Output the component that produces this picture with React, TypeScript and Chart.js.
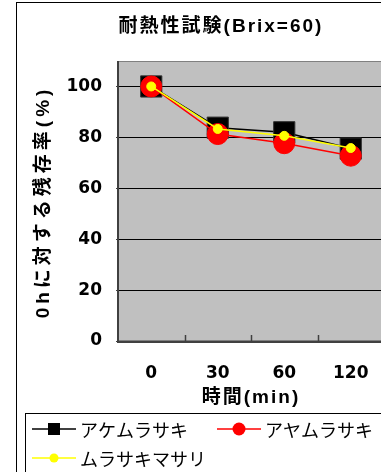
import React, { useEffect, useRef } from "react";
import { Chart, registerables } from "chart.js";

Chart.register(...registerables);

// Elapsed heating time (min)
const times = ["0", "30", "60", "120"];
// Residual ratio relative to 0 h (%)
const akemurasaki = [100, 83.8, 82.0, 75.6];
const ayamurasaki = [100, 81.3, 77.7, 72.8];
const murasakimasari = [100, 83.3, 80.6, 75.8];
const yTicks = [0, 20, 40, 60, 80, 100];
const seriesNames = ["アケムラサキ", "アヤムラサキ", "ムラサキマサリ"];
const chartTitle = "耐熱性試験(Brix=60)";
const yTitle = "0hに対する残存率(%)";
const xTitle = "時間(min)";

const BOLD_FONT = '"Liberation Sans", "Noto Sans CJK JP", sans-serif';

type LegendMark = { shape: "square" | "circle"; size: number };
const legendMarks: LegendMark[] = [
  { shape: "square", size: 12 },
  { shape: "circle", size: 13 },
  { shape: "circle", size: 9 },
];

const framePlugin = {
  id: "frame",
  beforeDraw(chart: any) {
    const { ctx, chartArea: a, width, height } = chart;
    ctx.save();
    ctx.fillStyle = "#ffffff";
    ctx.fillRect(0, 0, width, height);
    // chart outline
    ctx.strokeStyle = "#000000";
    ctx.lineWidth = 1;
    ctx.strokeRect(16.5, 2.5, width - 17, height + 40);
    // plot area
    ctx.fillStyle = "#c0c0c0";
    ctx.fillRect(a.left, a.top, a.right - a.left, a.bottom - a.top);
    ctx.strokeStyle = "#808080";
    ctx.strokeRect(a.left + 0.5, a.top + 0.5, a.right - a.left - 1, a.bottom - a.top - 1);
    ctx.restore();
  },
  beforeDatasetsDraw(chart: any) {
    const { ctx, chartArea: a } = chart;
    const xs = chart.scales.x;
    ctx.save();
    ctx.strokeStyle = "#404040";
    ctx.lineWidth = 2;
    ctx.beginPath();
    ctx.moveTo(a.left, a.top);
    ctx.lineTo(a.left, a.bottom + 1);
    ctx.lineTo(a.right, a.bottom + 1);
    ctx.stroke();
    // inward tick marks between categories
    ctx.lineWidth = 1.5;
    for (let i = 1; i < times.length; i++) {
      const x = Math.round((xs.getPixelForValue(i - 1) + xs.getPixelForValue(i)) / 2) + 0.5;
      ctx.beginPath();
      ctx.moveTo(x, a.bottom);
      ctx.lineTo(x, a.bottom - 6);
      ctx.stroke();
    }
    ctx.restore();
  },
  afterDraw(chart: any) {
    const { ctx } = chart;
    ctx.save();
    ctx.fillStyle = "#000000";
    ctx.textBaseline = "middle";
    ctx.textAlign = "center";

    // chart title
    ctx.font = `bold 19px ${BOLD_FONT}`;
    ctx.letterSpacing = "2px";
    ctx.fillText(chartTitle, 221, 27);

    // x axis title
    ctx.fillText(xTitle, 251, 398);

    // y axis title
    ctx.save();
    ctx.translate(44, 204);
    ctx.rotate(-Math.PI / 2);
    ctx.letterSpacing = "4px";
    ctx.fillText(yTitle, 2, 0);
    ctx.restore();

    // legend
    ctx.letterSpacing = "0px";
    ctx.strokeStyle = "#000000";
    ctx.lineWidth = 1;
    ctx.strokeRect(25.5, 413.5, chart.width, 100);
    const slots = [
      { x: 32, y: 429 },
      { x: 217, y: 429 },
      { x: 32, y: 458 },
    ];
    ctx.font = '18px "Noto Sans CJK JP", sans-serif';
    ctx.textAlign = "left";
    chart.data.datasets.forEach((ds: any, i: number) => {
      const s = slots[i];
      const m = legendMarks[i];
      ctx.strokeStyle = ds.borderColor;
      ctx.lineWidth = 1.5;
      ctx.beginPath();
      ctx.moveTo(s.x, s.y);
      ctx.lineTo(s.x + 44, s.y);
      ctx.stroke();
      const cx = s.x + 22;
      ctx.fillStyle = ds.pointBackgroundColor;
      if (m.shape === "square") {
        ctx.fillRect(cx - m.size / 2, s.y - m.size / 2, m.size, m.size);
      } else {
        ctx.beginPath();
        ctx.arc(cx, s.y, m.size / 2, 0, Math.PI * 2);
        ctx.fill();
      }
      ctx.fillStyle = "#000000";
      ctx.fillText(ds.label, s.x + 48, s.y + 1);
    });
    ctx.restore();
  },
};

export default function App() {
  const canvasRef = useRef<HTMLCanvasElement | null>(null);

  useEffect(() => {
    if (!canvasRef.current) return;
    const tickFont = { family: '"DejaVu Sans", sans-serif', size: 17, weight: "bold" as const };
    const chart = new Chart(canvasRef.current, {
      type: "line",
      data: {
        labels: times,
        datasets: [
          {
            label: seriesNames[0],
            data: akemurasaki,
            borderColor: "#000000",
            borderWidth: 1.5,
            pointStyle: "rect",
            pointRadius: 15,
            pointBackgroundColor: "#000000",
            pointBorderColor: "#333333",
            pointBorderWidth: 1,
            order: 3,
          },
          {
            label: seriesNames[1],
            data: ayamurasaki,
            borderColor: "#ff0000",
            borderWidth: 1.5,
            pointStyle: "circle",
            pointRadius: 10.5,
            pointBackgroundColor: "#ff0000",
            pointBorderColor: "#ff0000",
            pointBorderWidth: 1,
            order: 2,
          },
          {
            label: seriesNames[2],
            data: murasakimasari,
            borderColor: "#ffff00",
            borderWidth: 1.5,
            pointStyle: "circle",
            pointRadius: 4.5,
            pointBackgroundColor: "#ffff00",
            pointBorderColor: "#ffff00",
            pointBorderWidth: 1,
            order: 1,
          },
        ],
      },
      options: {
        responsive: true,
        maintainAspectRatio: false,
        animation: false,
        layout: { padding: { left: 0, right: 56, top: 61, bottom: 0 } },
        plugins: {
          legend: { display: false },
          title: { display: false },
          tooltip: { enabled: false },
        },
        scales: {
          x: {
            type: "category",
            offset: true,
            grid: { display: false },
            border: { display: false },
            ticks: { color: "#000000", font: tickFont, padding: 14, maxRotation: 0 },
            afterFit: (scale: any) => {
              scale.height = 131;
            },
          },
          y: {
            type: "linear",
            min: 0,
            max: 110,
            afterBuildTicks: (scale: any) => {
              scale.ticks = yTicks.map((v) => ({ value: v }));
            },
            grid: { color: "#000000", lineWidth: 1, drawTicks: true, tickLength: 2, tickColor: "#404040" },
            border: { display: false },
            ticks: { color: "#000000", font: tickFont, padding: 14 },
            afterFit: (scale: any) => {
              scale.width = 118;
            },
          },
        },
      },
      plugins: [framePlugin],
    });
    return () => chart.destroy();
  }, []);

  return (
    <div
      style={{
        position: "fixed",
        left: 0,
        top: 0,
        width: 381,
        height: 472,
        overflow: "hidden",
        background: "#ffffff",
      }}
    >
      <div style={{ position: "relative", width: 440, height: 472 }}>
        <canvas ref={canvasRef} />
      </div>
    </div>
  );
}
